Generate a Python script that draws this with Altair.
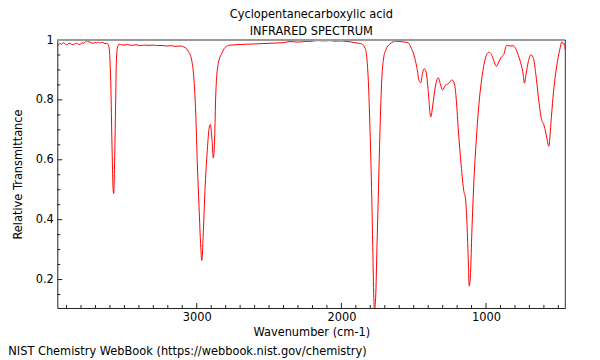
import altair as alt
import pandas as pd

# ---- data ----
wavenumber = [
    3964, 3957, 3945, 3934, 3922, 3910, 3899, 3888, 3876, 3864, 3853, 3841, 3830, 3818,
    3807, 3795, 3784, 3772, 3760, 3749, 3738, 3726, 3715, 3703, 3691, 3680, 3668, 3657,
    3646, 3634, 3622, 3611, 3604, 3599, 3592, 3588, 3583, 3579, 3574, 3570, 3565, 3560,
    3556, 3549, 3537, 3520, 3507, 3480, 3450, 3420, 3390, 3360, 3330, 3300, 3270, 3240,
    3210, 3180, 3150, 3115, 3081, 3058, 3035, 3019, 3007, 2996, 2984, 2972, 2965, 2954,
    2943, 2927, 2913, 2906, 2896, 2885, 2876, 2869, 2862, 2851, 2827, 2804, 2770, 2730,
    2690, 2650, 2600, 2550, 2500, 2450, 2400, 2355, 2300, 2250, 2200, 2168, 2120, 2080,
    2044, 2000, 1970, 1940, 1906, 1880, 1859, 1836, 1825, 1814, 1802, 1790, 1783, 1776,
    1771, 1763, 1754, 1745, 1733, 1721, 1710, 1693, 1664, 1641, 1626, 1600, 1579, 1539,
    1521, 1498, 1479, 1463, 1451, 1440, 1428, 1414, 1400, 1382, 1367, 1353, 1339, 1330,
    1316, 1300, 1283, 1265, 1251, 1237, 1218, 1205, 1191, 1172, 1153, 1142, 1133, 1123,
    1116, 1107, 1098, 1084, 1068, 1049, 1028, 1005, 981, 963, 947, 928, 912, 894,
    877, 858, 835, 812, 796, 777, 759, 742, 735, 723, 708, 689, 672, 656,
    638, 619, 598, 580, 566, 552, 537, 522, 505, 491, 475, 464, 457, 452,
]
transmittance = [
    0.988, 0.983, 0.989, 0.986, 0.991, 0.987, 0.983, 0.988, 0.989, 0.985, 0.984, 0.988, 0.989, 0.986,
    0.985, 0.990, 0.989, 0.993, 0.997, 0.994, 0.993, 0.990, 0.989, 0.992, 0.990, 0.993, 0.989, 0.992,
    0.991, 0.988, 0.989, 0.983, 0.967, 0.922, 0.810, 0.699, 0.587, 0.509, 0.487, 0.542, 0.665, 0.810,
    0.922, 0.972, 0.986, 0.984, 0.983, 0.985, 0.982, 0.984, 0.981, 0.983, 0.982, 0.983, 0.981, 0.982,
    0.980, 0.981, 0.979, 0.980, 0.975, 0.962, 0.933, 0.866, 0.756, 0.588, 0.442, 0.308, 0.264, 0.364,
    0.498, 0.632, 0.710, 0.718, 0.676, 0.606, 0.676, 0.810, 0.877, 0.922, 0.955, 0.975, 0.983, 0.984,
    0.985, 0.986, 0.987, 0.988, 0.989, 0.990, 0.991, 0.995, 0.993, 0.995, 0.996, 0.998, 0.997, 0.998,
    0.996, 0.997, 0.995, 0.994, 0.991, 0.989, 0.987, 0.972, 0.944, 0.866, 0.699, 0.475, 0.308, 0.141,
    0.100, 0.141, 0.308, 0.475, 0.699, 0.866, 0.933, 0.967, 0.987, 0.994, 0.996, 0.995, 0.994, 0.991,
    0.977, 0.949, 0.910, 0.865, 0.857, 0.887, 0.904, 0.893, 0.831, 0.743, 0.786, 0.837, 0.867, 0.874,
    0.853, 0.833, 0.848, 0.853, 0.859, 0.867, 0.853, 0.797, 0.696, 0.583, 0.494, 0.471, 0.403, 0.268,
    0.178, 0.223, 0.358, 0.527, 0.662, 0.786, 0.876, 0.938, 0.959, 0.952, 0.932, 0.912, 0.927, 0.943,
    0.952, 0.982, 0.980, 0.981, 0.972, 0.949, 0.921, 0.882, 0.856, 0.887, 0.927, 0.951, 0.938, 0.887,
    0.809, 0.741, 0.713, 0.673, 0.645, 0.718, 0.809, 0.876, 0.932, 0.966, 0.994, 0.986, 0.988, 0.965,
]

x_major = [1000, 2000, 3000]
x_minor = [500, 600, 700, 800, 900, 1100, 1200, 1300, 1400, 1500, 1600, 1700, 1800, 1900,
           2100, 2200, 2300, 2400, 2500, 2600, 2700, 2800, 2900, 3100, 3200, 3300, 3400,
           3500, 3600, 3700, 3800, 3900]
y_major = [0.2, 0.4, 0.6, 0.8, 1.0]
y_minor = [0.15, 0.25, 0.3, 0.35, 0.45, 0.5, 0.55, 0.65, 0.7, 0.75, 0.85, 0.9, 0.95]

title_lines = ["Cyclopentanecarboxylic acid", "INFRARED SPECTRUM"]
x_title = "Wavenumber (cm-1)"
y_title = "Relative Transmittance"
footer = ["NIST Chemistry WebBook (https://webbook.nist.gov/chemistry)"]

FONT = "DejaVu Sans"
FS = 11.4
W, H = 508, 268

xs = alt.Scale(domain=[452, 3964], reverse=True, nice=False, zero=False)
ys = alt.Scale(domain=[0.105, 1.0], nice=False, zero=False)

df = pd.DataFrame({"wn": wavenumber, "t": transmittance})

x_axis = alt.Axis(
    values=x_major, format="d", tickSize=0, labelPadding=4, grid=False,
    domainColor="#222222", domainWidth=1, labelColor="black", labelFont=FONT,
    labelFontSize=FS, title=x_title, titleFont=FONT, titleFontSize=FS,
    titleFontWeight="normal", titleColor="black", titlePadding=3)
y_axis = alt.Axis(
    values=y_major, format=".1~f", tickSize=0, labelPadding=4, grid=False,
    domainColor="#222222", domainWidth=1, labelColor="black", labelFont=FONT,
    labelFontSize=FS, title=y_title, titleFont=FONT, titleFontSize=FS,
    titleFontWeight="normal", titleColor="black", titlePadding=12)

line = alt.Chart(df).mark_line(
    color="#ff0000", strokeWidth=1, clip=True, interpolate="monotone"
).encode(
    x=alt.X("wn:Q", scale=xs, axis=x_axis),
    y=alt.Y("t:Q", scale=ys, axis=y_axis),
)

xmin_df = pd.DataFrame({"wn": x_minor})
xmaj_df = pd.DataFrame({"wn": x_major})
ymin_df = pd.DataFrame({"t": y_minor})
ymaj_df = pd.DataFrame({"t": y_major})

xt_minor = alt.Chart(xmin_df).mark_rule(color="#222222", strokeWidth=1).encode(
    x=alt.X("wn:Q", scale=xs, axis=x_axis), y=alt.value(H), y2=alt.value(H - 3))
xt_major = alt.Chart(xmaj_df).mark_rule(color="#222222", strokeWidth=1).encode(
    x=alt.X("wn:Q", scale=xs, axis=x_axis), y=alt.value(H), y2=alt.value(H - 5))
yt_minor = alt.Chart(ymin_df).mark_rule(color="#222222", strokeWidth=1).encode(
    y=alt.Y("t:Q", scale=ys, axis=y_axis), x=alt.value(0), x2=alt.value(3))
yt_major = alt.Chart(ymaj_df).mark_rule(color="#222222", strokeWidth=1).encode(
    y=alt.Y("t:Q", scale=ys, axis=y_axis), x=alt.value(0), x2=alt.value(5))

top_edge = alt.Chart(pd.DataFrame({"t": [1.0]})).mark_rule(color="#9a9a9a", strokeWidth=2).encode(
    y=alt.Y("t:Q", scale=ys, axis=y_axis))
right_edge = alt.Chart(pd.DataFrame({"wn": [452]})).mark_rule(color="#333333", strokeWidth=1).encode(
    x=alt.X("wn:Q", scale=xs, axis=x_axis))

foot = alt.Chart(pd.DataFrame({"s": footer})).mark_text(
    align="left", baseline="middle", font=FONT, fontSize=FS, color="black"
).encode(text="s:N", x=alt.value(-49), y=alt.value(H + 44))

chart = alt.layer(
    line, xt_minor, xt_major, yt_minor, yt_major, top_edge, right_edge, foot
).properties(
    width=W, height=H,
    title=alt.TitleParams(text=title_lines, font=FONT, fontSize=FS, fontWeight="normal",
                          color="black", anchor="middle", frame="group", offset=-3.5,
                          lineHeight=17),
    autosize=alt.AutoSizeParams(type="none"),
    padding={"left": 49.3, "top": 32, "right": 12, "bottom": 50},
).configure_view(strokeWidth=0)

chart.save("out.html", embed_options={"renderer": "svg", "actions": False})
